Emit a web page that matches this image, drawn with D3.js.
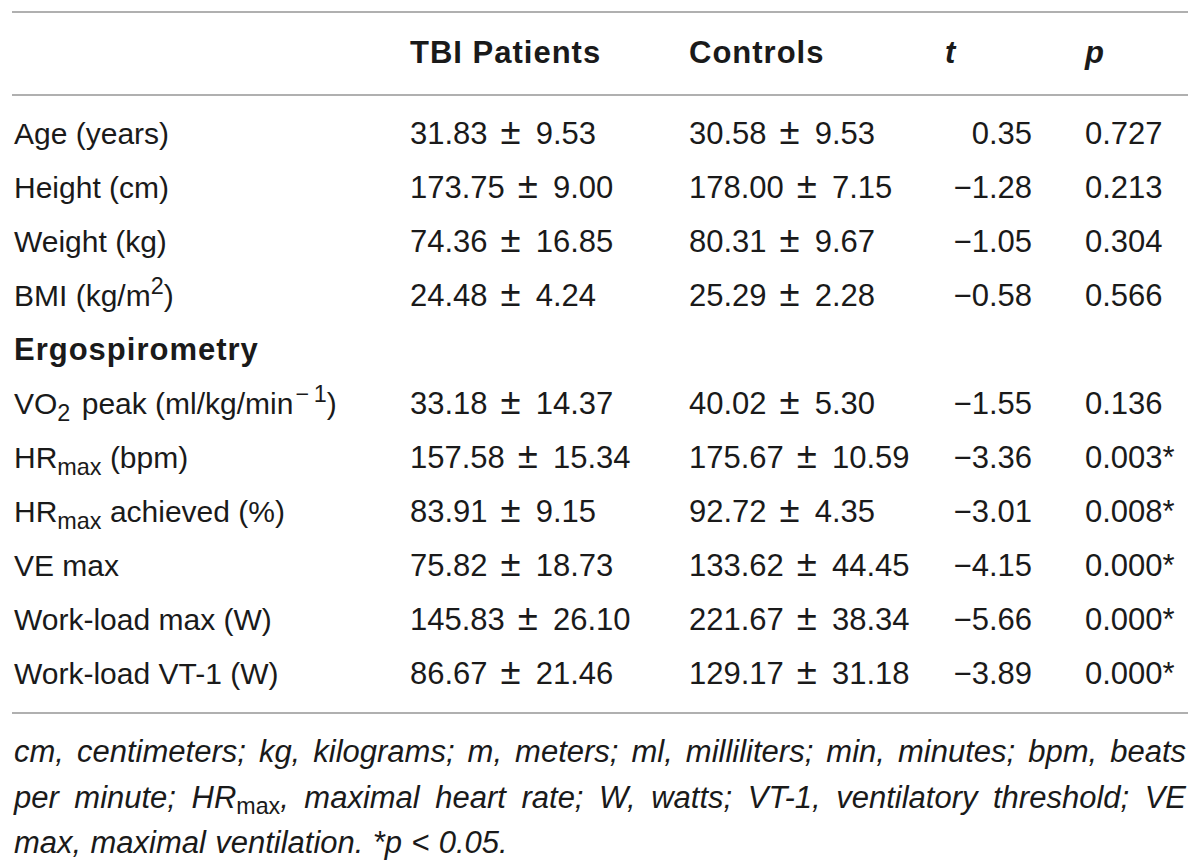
<!DOCTYPE html>
<html>
<head>
<meta charset="utf-8">
<script src="https://cdn.jsdelivr.net/npm/d3@7"></script>
<style>
  body { margin: 0; background: #fff; }
  text { font-family: "Liberation Sans", Arial, sans-serif; fill: #1a1a1a; }
</style>
</head>
<body>
<svg id="tbl" width="1200" height="860"></svg>
<script>
// table values
const rowLabels = [
    [["Age (years)"]],
    [["Height (cm)"]],
    [["Weight (kg)"]],
    [["BMI (kg/m"], ["2", "sup"], [")"]],
    [["Ergospirometry"]],
    [["VO"], ["2", "sub"], [" peak (ml/kg/min"], ["\u2212\u20091", "sup"], [")"]],
    [["HR"], ["max", "sub"], [" (bpm)"]],
    [["HR"], ["max", "sub"], [" achieved (%)"]],
    [["VE max"]],
    [["Work-load max (W)"]],
    [["Work-load VT-1 (W)"]]
]
const sectionRows = [4]
const tbiMeans = ["31.83", "173.75", "74.36", "24.48", "", "33.18", "157.58", "83.91", "75.82", "145.83", "86.67"]
const tbiSds = ["9.53", "9.00", "16.85", "4.24", "", "14.37", "15.34", "9.15", "18.73", "26.10", "21.46"]
const controlMeans = ["30.58", "178.00", "80.31", "25.29", "", "40.02", "175.67", "92.72", "133.62", "221.67", "129.17"]
const controlSds = ["9.53", "7.15", "9.67", "2.28", "", "5.30", "10.59", "4.35", "44.45", "38.34", "31.18"]
const tValues = ["0.35", "\u22121.28", "\u22121.05", "\u22120.58", "",
    "\u22121.55", "\u22123.36", "\u22123.01", "\u22124.15", "\u22125.66", "\u22123.89"]
const pValues = ["0.727", "0.213", "0.304", "0.566", "",
    "0.136", "0.003*", "0.008*", "0.000*", "0.000*", "0.000*"]
const headers = ["", "TBI Patients", "Controls", "t", "p"]
const footLines = [
    "cm, centimeters; kg, kilograms; m, meters; ml, milliliters; min, minutes; bpm, beats",
    "per minute; HR_max, maximal heart rate; W, watts; VT-1, ventilatory threshold; VE",
    "max, maximal ventilation. *p < 0.05."
]

const SVG = d3.select("#tbl")
const Width = 1200
const Margin = { left: 12, right: 12 }
const fontSize = 30
const numSize = 31

const cols = ["label", "tbi", "ctrl", "t", "p"]
const colX = d3.scaleOrdinal().domain(cols).range([14, 410, 689, 1032, 1085])
const colAnchor = { label: "start", tbi: "start", ctrl: "start", t: "end", p: "start" }

const rowIdx = d3.range(rowLabels.length)
const yscale = d3.scaleBand().domain(rowIdx).range([106, 700])

// rules
const rules = [12, 95, 713]
SVG.selectAll("line.rule")
    .data(rules)
    .join("line")
    .attr("class", "rule")
    .attr("x1", Margin.left)
    .attr("x2", Width - Margin.right)
    .attr("y1", d => d)
    .attr("y2", d => d)
    .attr("stroke", "#b0b0b0")
    .attr("stroke-width", 2)

// header
headers.forEach((h, i) => {
    if (!h) return
    let c = cols[i]
    SVG.append("text")
        .text(h)
        .attr("x", i == 3 ? 945 : colX(c))
        .attr("y", 63)
        .style("font-size", 31)
        .style("font-weight", 700)
        .style("letter-spacing", "1px")
        .style("font-style", (c == "t" || c == "p") ? "italic" : "normal")
})

// mean ± sd cell, with the wider plus-minus spacing of the original
function pmCell(x, y, mean, sd) {
    let t = SVG.append("text")
        .attr("x", x)
        .attr("y", y)
        .style("font-size", numSize)
    t.append("tspan").text(mean)
    t.append("tspan").text("\u00b1").attr("dx", 13).style("font-size", numSize * 1.18)
    t.append("tspan").text(sd).attr("dx", 15)
}

// body rows
for (let i of rowIdx) {
    let y = yscale(i) + yscale.bandwidth() / 2 + 11
    let isSection = sectionRows.includes(i)

    let lab = SVG.append("text")
        .attr("x", colX("label"))
        .attr("y", y)
        .style("font-size", isSection ? 31 : fontSize)
        .style("font-weight", isSection ? 700 : 400)
        .style("letter-spacing", isSection ? "1px" : null)
    let shift = 0
    rowLabels[i].forEach(part => {
        let ts = lab.append("tspan").text(part[0])
        let target = part[1] == "sub" ? 7 : part[1] == "sup" ? -12 : 0
        if (target != shift) ts.attr("dy", target - shift)
        if (part[1]) ts.style("font-size", fontSize * 0.78)
        if (part[1] == "sup" && part[0].length > 1) ts.attr("dx", 2)
        if (part[0].startsWith(" peak")) ts.attr("dx", 3)
        shift = target
    })

    if (tbiMeans[i]) pmCell(colX("tbi"), y, tbiMeans[i], tbiSds[i])
    if (controlMeans[i]) pmCell(colX("ctrl"), y, controlMeans[i], controlSds[i])

    let cells = [["t", tValues[i]], ["p", pValues[i]]]
    cells.forEach(([c, v]) => {
        if (!v) return
        SVG.append("text")
            .text(v)
            .attr("x", colX(c))
            .attr("y", y)
            .attr("text-anchor", colAnchor[c])
            .style("font-size", numSize)
    })
}

// footnote, justified word by word
const footSize = 31
const footY = d3.scalePoint().domain(d3.range(footLines.length)).range([762, 853])
const lineLeft = 14, lineRight = 1186

footLines.forEach((line, li) => {
    let words = line.split(" ")
    let g = SVG.append("g")
    let nodes = words.map(w => {
        let t = g.append("text")
            .attr("y", footY(li))
            .style("font-size", footSize)
            .style("font-style", "italic")
        if (w.includes("_")) {
            let [a, b] = w.split("_")
            let rest = b.replace("max", "")
            t.append("tspan").text(a)
            t.append("tspan").text("max").style("font-style", "normal").style("font-size", footSize * 0.75).attr("dy", 6)
            t.append("tspan").text(rest).attr("dy", -6)
        } else {
            t.text(w)
        }
        return t
    })
    let widths = nodes.map(n => n.node().getComputedTextLength())
    let total = d3.sum(widths)
    let space = footSize * 0.3
    if (li < footLines.length - 1) {
        space = (lineRight - lineLeft - total) / (words.length - 1)
    }
    let x = lineLeft
    nodes.forEach((n, k) => {
        n.attr("x", x)
        x += widths[k] + space
    })
})
</script>
</body>
</html>
